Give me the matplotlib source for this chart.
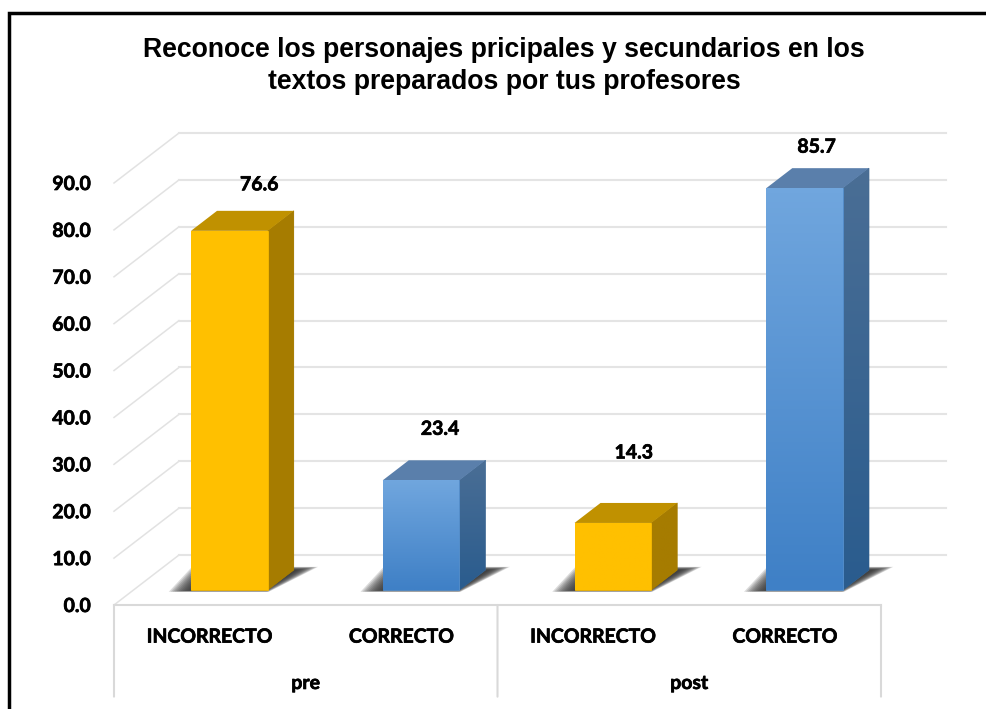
import numpy as np
import matplotlib
matplotlib.use("Agg")
import matplotlib.pyplot as plt
import matplotlib.patheffects as pe
from matplotlib.colors import LinearSegmentedColormap
from matplotlib.lines import Line2D
from matplotlib.patches import Polygon

# datos del grafico
grupos = ["pre", "post"]
categorias = ["INCORRECTO", "CORRECTO", "INCORRECTO", "CORRECTO"]
valores = [76.6, 23.4, 14.3, 85.7]
marcas_y = [0, 10, 20, 30, 40, 50, 60, 70, 80, 90]
titulo = "Reconoce los personajes pricipales y secundarios en los\ntextos preparados por tus profesores"

# desplazamiento de las etiquetas de datos, a mano (px desde la cara frontal)
etiqueta_dx = [30, 19, 21, 12]
etiqueta_dy = [46, 51, 70, 41]

W, H = 987, 709
# profundidad del "3D": cuanto se mueve el plano del fondo
PROF_X = 65 / 191.75
PROF_Y = 50 / 4.69
ANCHO = 0.2
D_FRENTE, D_FONDO = 0.3, 0.7

# Lato bold sale flojo, un trazo fino lo acerca a la negrita del original
negrita = [pe.withStroke(linewidth=0.5, foreground="black")]

fig = plt.figure(figsize=(W / 100, H / 100), dpi=100)
ax = fig.add_axes([114 / W, (H - 605) / H, (881 - 114) / W, (605 - 183) / H])
ax.set_xlim(-0.5, 3.5)
ax.set_ylim(0, 90)


def p3d(x, y, d):
    return x + d * PROF_X, y + d * PROF_Y


# paredes y piso
for v in marcas_y:
    x0, y0 = p3d(-0.5, v, 0)
    x1, y1 = p3d(-0.5, v, 1)
    x2, y2 = p3d(3.5, v, 1)
    ax.plot([x0, x1], [y0, y1], color="#E2E2E2", lw=1.1, zorder=1, clip_on=False)
    ax.plot([x1, x2], [y1, y2], color="#E4E4E4", lw=1.5, zorder=1, clip_on=False)

ax.plot([-0.5, 3.5], [0, 0], color="#D9D9D9", lw=1.5, zorder=1, clip_on=False)
for xv in [-0.5, 1.5, 3.5]:
    ax.annotate("", xy=(xv, 0), xytext=(0, -66), textcoords="offset points",
                arrowprops=dict(arrowstyle="-", color="#D9D9D9", lw=1.5, shrinkA=0, shrinkB=0))


def cara(puntos, col_arriba, col_abajo, zorder):
    # cara con degradado vertical, recortada al poligono
    puntos = np.array(puntos)
    cmap = LinearSegmentedColormap.from_list("c", [col_arriba, col_abajo])
    ext = [puntos[:, 0].min(), puntos[:, 0].max(), puntos[:, 1].min(), puntos[:, 1].max()]
    # fondo liso para que no quede hueco blanco en el borde del recorte
    pol = Polygon(puntos, closed=True, facecolor=cmap(0.5), edgecolor=cmap(0.5), lw=0.5, zorder=zorder,
                  transform=ax.transData, clip_on=False)
    ax.add_patch(pol)
    im = ax.imshow(np.linspace(0, 1, 64).reshape(-1, 1), cmap=cmap, extent=ext, origin="upper",
                   aspect="auto", interpolation="bilinear", zorder=zorder)
    im.set_clip_box(fig.bbox)
    im.set_clip_path(pol)


def sombra(xi, xd):
    # varias capas casi transparentes para simular el desenfoque
    for e in np.linspace(-0.015, 0.05, 12):
        pts = [p3d(xi - 0.08 + e * 1.6, 0, 0.27 + e * 0.4),
               p3d(xd + 0.01 - e * 0.5, 0, 0.27 + e * 0.4),
               p3d(xd + 0.086 - e * 1.3, 0, 0.75 - e * 0.9),
               p3d(xi - 0.128 + e * 1.6, 0, 0.75 - e * 0.9)]
        ax.add_patch(Polygon(pts, closed=True, facecolor="#2F2F2F", edgecolor="none",
                             alpha=0.17, zorder=2, clip_on=False))


for i, (cat, v) in enumerate(zip(categorias, valores)):
    if cat == "INCORRECTO":
        frente = ("#FFC000", "#FFC000")
        lado = ("#A67C00", "#A67C00")
        tapa = "#C09100"
    else:
        frente = ("#70A6DE", "#3F80C6")
        lado = ("#4A6E95", "#2A5C8E")
        tapa = "#5A7FAB"
    xi, xd = i - ANCHO, i + ANCHO
    sombra(xi, xd)
    cara([p3d(xd, 0, D_FRENTE), p3d(xd, 0, D_FONDO), p3d(xd, v, D_FONDO), p3d(xd, v, D_FRENTE)],
         lado[0], lado[1], 3)
    ax.add_patch(Polygon([p3d(xi, v, D_FRENTE), p3d(xd, v, D_FRENTE), p3d(xd, v, D_FONDO), p3d(xi, v, D_FONDO)],
                         closed=True, facecolor=tapa, edgecolor="none", zorder=3.5, clip_on=False))
    cara([p3d(xi, 0, D_FRENTE), p3d(xd, 0, D_FRENTE), p3d(xd, v, D_FRENTE), p3d(xi, v, D_FRENTE)],
         frente[0], frente[1], 4)
    cx, cy = p3d(i, v, D_FRENTE)
    ax.annotate(f"{v:.1f}", xy=(cx, cy), xytext=(etiqueta_dx[i] * 0.72, etiqueta_dy[i] * 0.72),
                textcoords="offset points", ha="center", va="center", fontsize=14,
                fontweight="bold", family="Lato", color="black", zorder=6, path_effects=negrita)

ax.set_xlim(-0.5, 3.5)
ax.set_ylim(0, 90)

# ejes
for s in ax.spines.values():
    s.set_visible(False)
ax.patch.set_alpha(0)
ax.set_yticks(marcas_y)
ax.set_yticklabels([f"{m:.1f}" for m in marcas_y], fontsize=14, fontweight="bold", family="Lato",
                   path_effects=negrita)
ax.set_xticks(range(len(categorias)))
ax.set_xticklabels(categorias, fontsize=14, fontweight="bold", family="Lato", path_effects=negrita)
ax.tick_params(axis="y", length=0, pad=16.5)
ax.tick_params(axis="x", length=0, pad=17)

for j, g in enumerate(grupos):
    ax.annotate(g, xy=(2 * j + 0.5, 0), xytext=(0, -56.5), textcoords="offset points",
                ha="center", va="center", fontsize=14, fontweight="bold", family="Lato",
                path_effects=negrita)

fig.text(504 / W, 1 - 66 / H, titulo, ha="center", va="center", fontsize=19.2, fontweight="bold",
         family="Liberation Sans", linespacing=1.27)

# marco negro (solo arriba e izquierda)
fig.add_artist(Line2D([9.3 / W, 9.3 / W, 1], [0, 1 - 12.5 / H, 1 - 12.5 / H], color="black", lw=2.5,
                      solid_joinstyle="miter", transform=fig.transFigure))

fig.savefig("out.png", dpi=100, facecolor="white")
